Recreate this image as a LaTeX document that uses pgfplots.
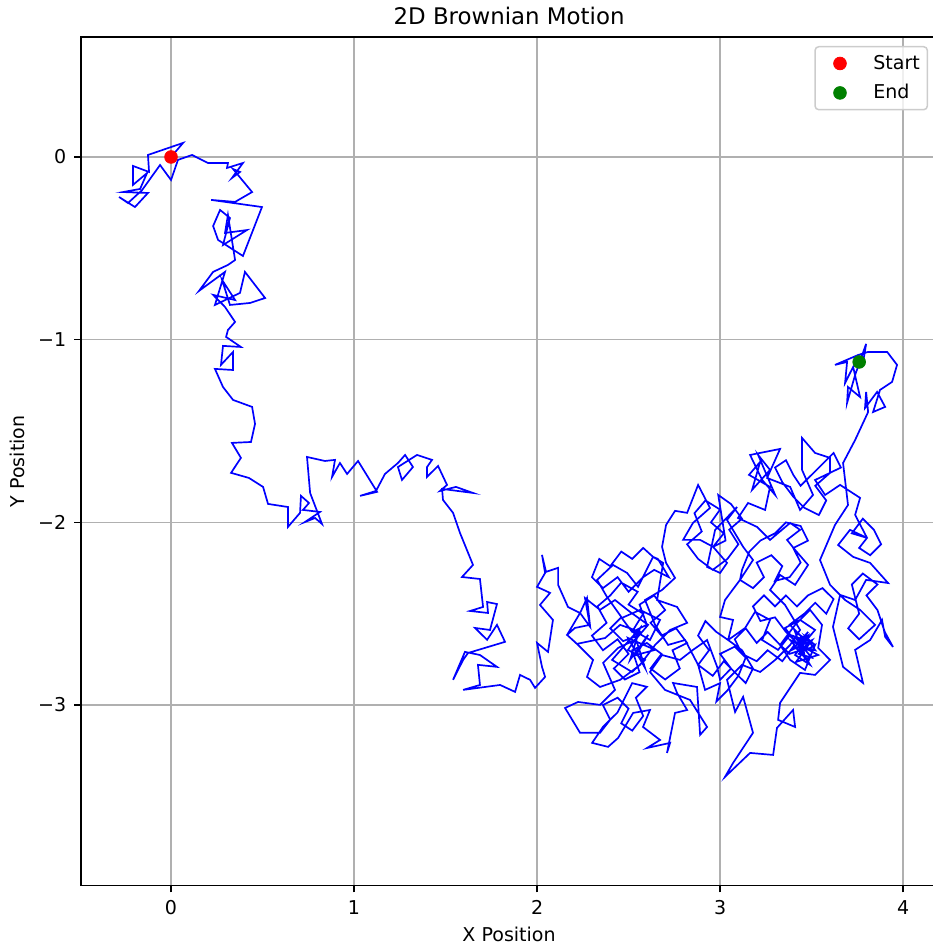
\documentclass[border=0pt]{standalone}
\usepackage{fontspec}
\setmainfont{DejaVu Sans}
\usepackage{pgfplots}
\pgfplotsset{compat=1.18}
\definecolor{mplgreen}{RGB}{0,128,0}
\definecolor{gridgray}{RGB}{176,176,176}
\definecolor{legedge}{RGB}{204,204,204}
\begin{document}
\begin{tikzpicture}
\begin{axis}[
  scale only axis, width=456.5pt, height=452.6pt,
  xmin=-0.4918, xmax=4.186, ymin=-3.989, ymax=0.657,
  xtick={0,1,2,3,4}, xticklabels={0,1,2,3,4},
  ytick={-3,-2,-1,0}, yticklabels={−3,−2,−1,0},
  xtick pos=lower, ytick pos=left,
  tick align=outside, major tick length=3.5pt,
  tick style={black, line width=0.8pt},
  axis line style={black, line width=0.8pt},
  grid=major, grid style={gridgray, line width=0.8pt},
  ticklabel style={font=\fontsize{10.15}{12}\selectfont},
  xticklabel style={anchor=base, yshift=-11.9pt},
  yticklabel style={anchor=east, inner xsep=0pt, xshift=-4.2pt},
  title={2D Brownian Motion},
  title style={font=\fontsize{12.2}{14}\selectfont, at={(0.5,1)}, anchor=base, yshift=0.4pt},
  xlabel={X Position},
  xlabel style={font=\fontsize{10.15}{12}\selectfont, at={(0.5,0)}, anchor=base, yshift=-29.8pt},
  ylabel={Y Position},
  ylabel style={font=\fontsize{10.15}{12}\selectfont, at={(0,0.5)}, anchor=base, yshift=29.9pt},
  legend style={at={(1,1)}, anchor=north east, xshift=-4.8pt, yshift=-4.8pt,
    draw=legedge, line width=0.8pt, rounded corners=2pt, fill=white, fill opacity=0.8,
    draw opacity=1, text opacity=1, inner xsep=2pt, inner ysep=1.1pt,
    row sep=0pt, column sep=4.5pt, font=\fontsize{10.15}{12}\selectfont},
  legend cell align=left,
  legend image code/.code={\path[draw=none, fill=none] (0pt,-7.85pt) rectangle (22.6pt,7.85pt);
    \draw[#1, fill opacity=1, draw opacity=1, line width=0.4pt] plot coordinates {(11.3pt,0pt)};},
]
\coordinate (sw) at (rel axis cs:0,0);
\addplot[blue, line width=0.9pt, line join=miter, forget plot] coordinates {
(0,0) (0.066,0.077) (-0.126,0.011) (-0.120,-0.082) (-0.208,-0.049) (-0.208,-0.153)
(-0.131,-0.088) (-0.169,-0.175) (-0.262,-0.192) (-0.126,-0.197) (-0.197,-0.274)
(-0.284,-0.219) (-0.235,-0.252) (-0.158,-0.181) (-0.060,-0.044) (0,-0.126)
(0.038,-0.016) (0.115,0.011) (0.202,-0.033) (0.311,-0.033) (0.306,-0.060)
(0.393,-0.033) (0.333,-0.115) (0.377,-0.082) (0.339,-0.066) (0.443,-0.192)
(0.350,-0.246) (0.219,-0.235) (0.497,-0.274) (0.393,-0.542) (0.257,-0.454)
(0.230,-0.378) (0.268,-0.290) (0.322,-0.334) (0.284,-0.482) (0.415,-0.400)
(0.295,-0.416) (0.311,-0.317) (0.350,-0.564) (0.311,-0.591) (0.230,-0.629)
(0.153,-0.733) (0.295,-0.629) (0.240,-0.810) (0.377,-0.744) (0.404,-0.629)
(0.514,-0.772) (0.432,-0.799) (0.322,-0.810) (0.279,-0.673) (0.350,-0.783)
(0.230,-0.755) (0.295,-0.821) (0.350,-0.903) (0.311,-0.947) (0.301,-0.985)
(0.382,-1.040) (0.284,-1.034) (0.273,-1.138) (0.339,-1.067) (0.339,-1.166)
(0.240,-1.160) (0.284,-1.259) (0.339,-1.330) (0.443,-1.368) (0.459,-1.461)
(0.437,-1.560) (0.333,-1.565) (0.382,-1.647) (0.328,-1.729) (0.426,-1.757)
(0.503,-1.806) (0.530,-1.899) (0.639,-1.916) (0.639,-2.025) (0.705,-1.948)
(0.710,-1.855) (0.754,-1.894) (0.721,-1.932) (0.814,-1.943) (0.732,-1.998)
(0.787,-1.976) (0.825,-2.009) (0.760,-1.839) (0.743,-1.642) (0.841,-1.664)
(0.896,-1.658) (0.880,-1.751) (0.923,-1.675) (0.962,-1.735) (1.022,-1.664)
(1.126,-1.833) (1.033,-1.855) (1.120,-1.828) (1.169,-1.735) (1.240,-1.675)
(1.279,-1.631) (1.322,-1.697) (1.262,-1.768) (1.240,-1.697) (1.344,-1.631)
(1.426,-1.658) (1.399,-1.697) (1.399,-1.751) (1.459,-1.691) (1.508,-1.795)
(1.470,-1.828) (1.557,-1.806) (1.650,-1.839) (1.481,-1.817) (1.486,-1.877)
(1.541,-1.948) (1.579,-2.058) (1.650,-2.233) (1.590,-2.299) (1.688,-2.310)
(1.705,-2.463) (1.634,-2.485) (1.732,-2.496) (1.727,-2.436) (1.781,-2.447)
(1.743,-2.589) (1.661,-2.578) (1.727,-2.643) (1.781,-2.561) (1.825,-2.654)
(1.623,-2.715) (1.596,-2.753) (1.541,-2.862) (1.606,-2.709) (1.688,-2.726)
(1.781,-2.791) (1.677,-2.780) (1.688,-2.890) (1.596,-2.917) (1.798,-2.890)
(1.880,-2.928) (1.907,-2.835) (1.962,-2.862) (1.989,-2.906) (2.044,-2.846)
(2.027,-2.791) (2.000,-2.660) (2.060,-2.709) (2.087,-2.534) (2.016,-2.452)
(2.071,-2.386) (2.000,-2.353) (2.044,-2.277) (2.027,-2.178) (2.049,-2.271)
(2.115,-2.249) (2.115,-2.342) (2.169,-2.463) (2.235,-2.496) (2.273,-2.414)
(2.289,-2.561) (2.207,-2.578) (2.164,-2.616) (2.218,-2.665) (2.372,-2.633)
(2.454,-2.561) (2.563,-2.600) (2.497,-2.698) (2.590,-2.753) (2.519,-2.819)
(2.410,-2.753) (2.481,-2.671) (2.563,-2.578) (2.508,-2.753) (2.607,-2.616)
(2.541,-2.726) (2.645,-2.698) (2.497,-2.633) (2.590,-2.797) (2.525,-2.589)
(2.58,-2.50) (2.50,-2.45) (2.55,-2.38) (2.46,-2.33) (2.40,-2.40) (2.33,-2.46)
(2.38,-2.55) (2.30,-2.62) (2.36,-2.70) (2.44,-2.64) (2.50,-2.72) (2.42,-2.80)
(2.48,-2.86) (2.56,-2.82) (2.52,-2.70) (2.60,-2.66) (2.68,-2.72) (2.62,-2.80)
(2.70,-2.86) (2.78,-2.80) (2.74,-2.70) (2.82,-2.66) (2.76,-2.58) (2.68,-2.62)
(2.62,-2.55) (2.70,-2.48) (2.64,-2.40) (2.56,-2.45) (2.60,-2.56) (2.52,-2.60)
(2.46,-2.52) (2.40,-2.58) (2.47,-2.65) (2.55,-2.62) (2.525,-2.589)
(2.617,-2.644) (2.672,-2.534) (2.563,-2.479) (2.464,-2.523) (2.382,-2.408)
(2.328,-2.315) (2.415,-2.233) (2.492,-2.277) (2.552,-2.353) (2.634,-2.189)
(2.58,-2.14) (2.52,-2.20) (2.46,-2.16) (2.40,-2.24) (2.34,-2.20) (2.30,-2.30)
(2.36,-2.36) (2.44,-2.30) (2.50,-2.38) (2.58,-2.30) (2.64,-2.26) (2.72,-2.30)
(2.66,-2.20) (2.634,-2.189)
(2.689,-2.222) (2.656,-2.425) (2.765,-2.463) (2.820,-2.550) (2.727,-2.589)
(2.645,-2.671) (2.563,-2.780) (2.454,-2.862) (2.344,-2.901) (2.273,-2.846)
(2.306,-2.753) (2.224,-2.671) (2.164,-2.616) (2.235,-2.496) (2.290,-2.572)
(2.262,-2.414) (2.344,-2.479) (2.426,-2.425) (2.508,-2.490) (2.607,-2.561)
(2.536,-2.644) (2.443,-2.687) (2.361,-2.769) (2.426,-2.917) (2.344,-2.999)
(2.224,-2.983) (2.153,-3.016) (2.235,-3.152) (2.344,-3.152)
(2.40,-3.08) (2.36,-3.00) (2.44,-2.96) (2.50,-3.02) (2.46,-3.10) (2.52,-3.14)
(2.58,-3.06) (2.54,-2.96) (2.60,-2.90) (2.52,-2.88) (2.44,-3.04) (2.36,-3.12)
(2.301,-3.207)
(2.388,-3.229) (2.443,-3.180) (2.525,-3.043) (2.617,-3.027) (2.579,-3.120)
(2.672,-3.191) (2.601,-3.235) (2.727,-3.207) (2.710,-3.262) (2.754,-3.043)
(2.820,-3.027) (2.765,-2.934) (2.743,-2.879) (2.874,-2.901) (2.891,-3.163)
(2.929,-3.120) (2.836,-2.972) (2.699,-2.917) (2.617,-2.819) (2.683,-2.726)
(2.781,-2.753) (2.852,-2.698) (2.929,-2.644) (2.984,-2.791) (3.000,-2.862)
(3.06,-2.80) (3.00,-2.72) (3.08,-2.68) (3.14,-2.74) (3.10,-2.84) (3.04,-2.92)
(2.98,-2.98) (3.000,-2.880)
(2.918,-2.917) (2.880,-2.780) (2.809,-2.644) (2.716,-2.671) (2.645,-2.561)
(2.590,-2.425) (2.683,-2.370) (2.754,-2.304) (2.705,-2.222) (2.683,-2.134)
(2.705,-2.014) (2.754,-1.937) (2.820,-1.948) (2.880,-1.795) (2.945,-1.921)
(2.852,-2.003) (2.798,-2.096) (2.891,-2.096) (2.962,-2.134)
(3.02,-2.06) (2.95,-2.00) (3.00,-1.93) (2.92,-1.88) (2.86,-1.95) (2.90,-2.05)
(2.82,-2.12) (2.88,-2.20) (2.96,-2.26) (3.04,-2.20) (3.10,-2.12) (3.05,-2.04)
(3.12,-1.98) (3.06,-1.90) (2.99,-1.85) (3.03,-2.10) (2.962,-2.134)
(3.038,-2.222) (3.000,-2.277) (2.929,-2.244) (2.973,-2.041) (3.093,-1.916)
(3.038,-1.987) (3.126,-2.134) (3.180,-2.206) (3.109,-2.315)
(3.18,-2.36) (3.24,-2.30) (3.20,-2.22) (3.28,-2.18) (3.34,-2.24) (3.30,-2.32)
(3.38,-2.30) (3.44,-2.22) (3.40,-2.14) (3.48,-2.10) (3.44,-2.02) (3.36,-2.00)
(3.30,-2.06) (3.22,-2.10) (3.16,-2.16) (3.12,-2.26) (3.109,-2.315)
(3.027,-2.425) (3.000,-2.518) (3.071,-2.534) (3.044,-2.644)
(2.98,-2.60) (2.92,-2.54) (2.88,-2.62) (2.94,-2.70) (2.88,-2.78) (2.96,-2.84)
(3.02,-2.76) (3.08,-2.82) (3.14,-2.88) (3.18,-2.80) (3.12,-2.70) (3.044,-2.644)
(3.137,-2.578) (3.191,-2.490)
(3.273,-2.534) (3.230,-2.644) (3.317,-2.698) (3.383,-2.616) (3.464,-2.644)
(3.410,-2.726) (3.492,-2.780) (3.437,-2.687) (3.519,-2.589) (3.437,-2.534)
(3.355,-2.578) (3.426,-2.671) (3.481,-2.600) (3.393,-2.698) (3.503,-2.644)
(3.415,-2.764) (3.536,-2.726) (3.383,-2.644) (3.464,-2.742) (3.410,-2.600)
(3.519,-2.671)
(3.47,-2.63) (3.52,-2.70) (3.45,-2.68) (3.50,-2.74) (3.43,-2.72) (3.48,-2.66)
(3.41,-2.63) (3.47,-2.70) (3.519,-2.671)
(3.503,-2.709) (3.464,-2.808) (3.383,-2.753) (3.328,-2.671)
(3.26,-2.60) (3.20,-2.66) (3.14,-2.58) (3.08,-2.64) (3.12,-2.72) (3.20,-2.76)
(3.26,-2.70) (3.34,-2.76) (3.40,-2.68) (3.46,-2.72) (3.44,-2.62) (3.38,-2.56)
(3.46,-2.50) (3.52,-2.44) (3.58,-2.50) (3.62,-2.42) (3.56,-2.36) (3.48,-2.40)
(3.42,-2.46) (3.36,-2.40) (3.30,-2.46) (3.24,-2.40) (3.18,-2.46) (3.22,-2.54)
(3.30,-2.52) (3.36,-2.60) (3.42,-2.66) (3.48,-2.62) (3.44,-2.70) (3.38,-2.72)
(3.328,-2.671)
(3.410,-2.561) (3.492,-2.479) (3.557,-2.561) (3.536,-2.687) (3.601,-2.753)
(3.519,-2.835) (3.437,-2.824) (3.328,-2.988) (3.317,-3.081) (3.410,-3.120)
(3.399,-3.027) (3.311,-3.125) (3.290,-3.273) (3.164,-3.262) (3.027,-3.393)
(3.071,-3.317) (3.180,-3.152) (3.126,-2.955) (3.082,-3.038) (3.038,-2.862)
(3.120,-2.780) (3.219,-2.819) (3.301,-2.753) (3.383,-2.671) (3.437,-2.589)
(3.355,-2.452) (3.273,-2.370) (3.328,-2.288) (3.410,-2.342) (3.481,-2.233)
(3.410,-2.151) (3.366,-2.096) (3.437,-2.041) (3.383,-2.003) (3.273,-2.096)
(3.202,-2.025) (3.098,-1.976) (3.153,-1.894) (3.246,-1.932) (3.273,-1.806)
(3.158,-1.740) (3.219,-1.669) (3.175,-1.822) (3.273,-1.713) (3.208,-1.631)
(3.301,-1.850) (3.230,-1.768) (3.164,-1.631) (3.328,-1.598) (3.257,-1.757)
(3.383,-1.806) (3.437,-1.932) (3.508,-1.850) (3.448,-1.713) (3.448,-1.538)
(3.519,-1.620) (3.601,-1.647) (3.601,-1.729)
(3.66,-1.70) (3.62,-1.62) (3.56,-1.68) (3.50,-1.74) (3.44,-1.80) (3.40,-1.74)
(3.36,-1.66) (3.30,-1.70) (3.34,-1.78) (3.40,-1.86) (3.46,-1.92) (3.54,-1.96)
(3.58,-1.88) (3.52,-1.80) (3.601,-1.729)
(3.519,-1.768) (3.574,-1.850) (3.656,-1.795) (3.765,-1.866) (3.738,-1.959)
(3.803,-2.085)
(3.76,-2.14) (3.82,-2.18) (3.88,-2.12) (3.84,-2.04) (3.78,-1.98) (3.72,-2.06)
(3.803,-2.085)
(3.710,-2.041) (3.645,-2.124) (3.727,-2.189) (3.820,-2.222)
(3.918,-2.332) (3.798,-2.315) (3.738,-2.425) (3.656,-2.397) (3.617,-2.572)
(3.672,-2.791) (3.781,-2.879) (3.738,-2.698) (3.820,-2.644) (3.885,-2.534)
(3.902,-2.627) (3.945,-2.682)
(3.90,-2.60) (3.86,-2.48) (3.80,-2.40) (3.86,-2.34) (3.78,-2.28) (3.72,-2.34)
(3.76,-2.50) (3.70,-2.58) (3.76,-2.64)
(3.847,-2.561) (3.765,-2.479) (3.683,-2.425) (3.601,-2.342) (3.546,-2.206)
(3.628,-2.014) (3.699,-1.905) (3.672,-1.675) (3.738,-1.549) (3.809,-1.396)
(3.798,-1.286) (3.792,-1.374) (3.858,-1.286) (3.902,-1.368) (3.836,-1.396)
(3.874,-1.275) (3.940,-1.231) (3.967,-1.138) (3.913,-1.067) (3.809,-1.067)
(3.754,-1.084) (3.628,-1.138) (3.694,-1.122) (3.683,-1.237) (3.727,-1.149)
(3.765,-1.314) (3.699,-1.259) (3.694,-1.346) (3.738,-1.193) (3.798,-1.023)
(3.781,-1.127) (3.760,-1.122)
};
\addplot[only marks, mark=*, mark size=3.4pt, red, line width=0.4pt] coordinates {(0,0)};
\addlegendentry{Start}
\addplot[only marks, mark=*, mark size=3.4pt, mplgreen, line width=0.4pt] coordinates {(3.760,-1.122)};
\addlegendentry{End}
\end{axis}
\pgfresetboundingbox
\path ([shift={(-43.2pt,-31.6pt)}]sw) rectangle ([shift={(453.9pt,472.3pt)}]sw);
\end{tikzpicture}
\end{document}
